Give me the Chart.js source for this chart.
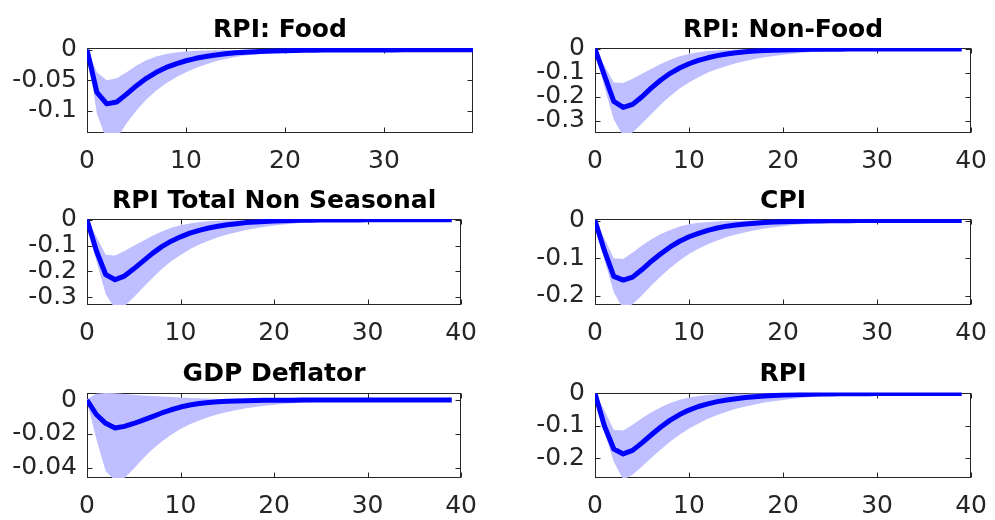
<!DOCTYPE html>
<html>
<head>
<meta charset="utf-8">
<title>Impulse responses: price indices</title>
<script src="https://cdn.jsdelivr.net/npm/chart.js@4.4.1/dist/chart.umd.min.js"></script>
<style>
  html, body { margin: 0; padding: 0; background: #fff; }
  #fig { position: relative; width: 995px; height: 520px; overflow: hidden; }
  #fig canvas { position: absolute; }
</style>
</head>
<body>
<div id="fig"></div>
<script>
/************** DATA **************/
const HORIZON = [0, 1, 2, 3, 4, 5, 6, 7, 8, 9, 10, 11, 12, 13, 14, 15, 16, 17, 18, 19,
  20, 21, 22, 23, 24, 25, 26, 27, 28, 29, 30, 31, 32, 33, 34, 35, 36, 37, 38, 39];

const TITLES = ["RPI: Food", "RPI: Non-Food", "RPI Total Non Seasonal", "CPI", "GDP Deflator", "RPI"];

// RPI: Food
const foodMean = [0, -0.070, -0.089, -0.086, -0.073, -0.059, -0.047, -0.037, -0.029, -0.023,
  -0.018, -0.014, -0.011, -0.0085, -0.0065, -0.005, -0.0039, -0.003, -0.0023, -0.0018,
  -0.0014, -0.0011, -0.0008, -0.0006, -0.0005, -0.0004, -0.0003, -0.0002, -0.0002, -0.0001,
  -0.0001, -0.0001, 0, 0, 0, 0, 0, 0, 0, 0];
const foodUpper = [0.002, -0.037, -0.050, -0.047, -0.037, -0.026, -0.017, -0.011, -0.007, -0.0045,
  -0.0028, -0.0017, -0.001, -0.0006, -0.0003, -0.0001, 0, 0, 0, 0,
  0, 0, 0, 0, 0, 0, 0, 0, 0, 0, 0, 0, 0, 0, 0, 0, 0, 0, 0, 0];
const foodLower = [-0.002, -0.105, -0.150, -0.146, -0.121, -0.100, -0.082, -0.067, -0.055, -0.045,
  -0.037, -0.030, -0.024, -0.019, -0.015, -0.012, -0.0095, -0.0075, -0.006, -0.0047,
  -0.0037, -0.0029, -0.0023, -0.0018, -0.0014, -0.0011, -0.0009, -0.0007, -0.0005, -0.0004,
  -0.0003, -0.0003, -0.0002, -0.0002, -0.0001, -0.0001, -0.0001, 0, 0, 0];

// RPI: Non-Food
const nonFoodMean = [0, -0.110, -0.220, -0.245, -0.232, -0.200, -0.163, -0.130, -0.102, -0.080,
  -0.062, -0.048, -0.037, -0.028, -0.021, -0.016, -0.012, -0.009, -0.007, -0.0053,
  -0.004, -0.003, -0.0023, -0.0017, -0.0013, -0.001, -0.0008, -0.0006, -0.0004, -0.0003,
  -0.0002, -0.0002, -0.0001, -0.0001, 0, 0, 0, 0, 0, 0];
const nonFoodUpper = [0.002, -0.070, -0.140, -0.143, -0.125, -0.104, -0.083, -0.063, -0.045, -0.031,
  -0.021, -0.014, -0.009, -0.006, -0.004, -0.0025, -0.0015, -0.001, -0.0005, -0.0002,
  0, 0, 0, 0, 0, 0, 0, 0, 0, 0, 0, 0, 0, 0, 0, 0, 0, 0, 0, 0];
const nonFoodLower = [-0.003, -0.160, -0.295, -0.365, -0.350, -0.312, -0.272, -0.233, -0.197, -0.166,
  -0.140, -0.118, -0.099, -0.084, -0.071, -0.060, -0.050, -0.042, -0.035, -0.029,
  -0.024, -0.020, -0.016, -0.013, -0.011, -0.009, -0.0074, -0.006, -0.005, -0.004,
  -0.0033, -0.0027, -0.0022, -0.0018, -0.0015, -0.0012, -0.001, -0.0008, -0.0006, -0.0005];

// RPI Total Non Seasonal
const totalMean = [0, -0.120, -0.212, -0.232, -0.218, -0.190, -0.160, -0.130, -0.104, -0.083,
  -0.066, -0.052, -0.041, -0.032, -0.025, -0.019, -0.015, -0.011, -0.0085, -0.0065,
  -0.005, -0.0038, -0.0029, -0.0022, -0.0017, -0.0013, -0.001, -0.0008, -0.0006, -0.0004,
  -0.0003, -0.0002, -0.0002, -0.0001, -0.0001, 0, 0, 0, 0, 0];
const totalUpper = [0.002, -0.065, -0.135, -0.138, -0.121, -0.101, -0.081, -0.062, -0.045, -0.031,
  -0.021, -0.014, -0.009, -0.006, -0.004, -0.0025, -0.0015, -0.001, -0.0005, -0.0002,
  0, 0, 0, 0, 0, 0, 0, 0, 0, 0, 0, 0, 0, 0, 0, 0, 0, 0, 0, 0];
const totalLower = [-0.003, -0.160, -0.287, -0.345, -0.335, -0.300, -0.262, -0.225, -0.191, -0.161,
  -0.136, -0.114, -0.096, -0.081, -0.068, -0.057, -0.048, -0.040, -0.033, -0.027,
  -0.022, -0.018, -0.015, -0.012, -0.010, -0.008, -0.0066, -0.0054, -0.0044, -0.0036,
  -0.0029, -0.0024, -0.0019, -0.0016, -0.0013, -0.001, -0.0008, -0.0007, -0.0005, -0.0004];

// CPI
const cpiMean = [0, -0.080, -0.148, -0.158, -0.150, -0.130, -0.108, -0.088, -0.070, -0.055,
  -0.043, -0.034, -0.026, -0.020, -0.015, -0.012, -0.009, -0.007, -0.0052, -0.004,
  -0.003, -0.0023, -0.0017, -0.0013, -0.001, -0.0007, -0.0005, -0.0004, -0.0003, -0.0002,
  -0.0002, -0.0001, -0.0001, 0, 0, 0, 0, 0, 0, 0];
const cpiUpper = [0.002, -0.048, -0.100, -0.102, -0.085, -0.066, -0.050, -0.036, -0.025, -0.016,
  -0.010, -0.006, -0.004, -0.0025, -0.0015, -0.001, -0.0005, -0.0002, 0, 0,
  0, 0, 0, 0, 0, 0, 0, 0, 0, 0, 0, 0, 0, 0, 0, 0, 0, 0, 0, 0];
const cpiLower = [-0.003, -0.105, -0.190, -0.235, -0.222, -0.198, -0.172, -0.148, -0.126, -0.106,
  -0.089, -0.075, -0.063, -0.053, -0.044, -0.037, -0.031, -0.026, -0.021, -0.018,
  -0.015, -0.012, -0.010, -0.008, -0.0066, -0.0054, -0.0044, -0.0036, -0.003, -0.0024,
  -0.002, -0.0016, -0.0013, -0.0011, -0.0009, -0.0007, -0.0006, -0.0005, -0.0004, -0.0003];

// GDP Deflator
const gdpMean = [0, -0.0085, -0.0137, -0.0165, -0.0155, -0.0138, -0.0118, -0.0097, -0.0076, -0.0057,
  -0.0041, -0.0029, -0.002, -0.0014, -0.001, -0.0007, -0.0005, -0.0003, -0.0002, -0.00015,
  -0.0001, -0.0001, -0.00005, 0, 0, 0, 0, 0, 0, 0, 0, 0, 0, 0, 0, 0, 0, 0, 0, 0];
const gdpUpper = [0.0005, 0.0038, 0.0042, 0.0040, 0.0036, 0.0032, 0.0028, 0.0025, 0.0022, 0.0019,
  0.0016, 0.0013, 0.0011, 0.0009, 0.0007, 0.0006, 0.0005, 0.0004, 0.0003, 0.0003,
  0.0002, 0.0002, 0.0001, 0.0001, 0.0001, 0, 0, 0, 0, 0, 0, 0, 0, 0, 0, 0, 0, 0, 0, 0];
const gdpLower = [-0.001, -0.023, -0.042, -0.0475, -0.046, -0.0405, -0.0345, -0.029, -0.0245, -0.0205,
  -0.017, -0.0143, -0.012, -0.010, -0.0084, -0.007, -0.0058, -0.0048, -0.004, -0.0033,
  -0.0027, -0.0022, -0.0018, -0.0015, -0.0012, -0.001, -0.0008, -0.0007, -0.0006, -0.0005,
  -0.0004, -0.0003, -0.0003, -0.0002, -0.0002, -0.0001, -0.0001, -0.0001, 0, 0];

// RPI
const rpiMean = [0, -0.100, -0.171, -0.186, -0.175, -0.152, -0.127, -0.103, -0.082, -0.065,
  -0.051, -0.040, -0.032, -0.025, -0.020, -0.016, -0.0125, -0.0098, -0.0077, -0.006,
  -0.0047, -0.0037, -0.0029, -0.0022, -0.0017, -0.0013, -0.001, -0.0008, -0.0006, -0.0005,
  -0.0004, -0.0003, -0.0002, -0.0002, -0.0001, -0.0001, 0, 0, 0, 0];
const rpiUpper = [0.002, -0.052, -0.112, -0.114, -0.096, -0.076, -0.058, -0.042, -0.029, -0.019,
  -0.012, -0.008, -0.005, -0.003, -0.002, -0.001, -0.0005, 0, 0, 0,
  0, 0, 0, 0, 0, 0, 0, 0, 0, 0, 0, 0, 0, 0, 0, 0, 0, 0, 0, 0];
const rpiLower = [-0.003, -0.120, -0.210, -0.265, -0.250, -0.225, -0.198, -0.172, -0.148, -0.127,
  -0.108, -0.092, -0.078, -0.066, -0.056, -0.047, -0.040, -0.034, -0.028, -0.024,
  -0.020, -0.016, -0.013, -0.011, -0.009, -0.0075, -0.0062, -0.0051, -0.0042, -0.0034,
  -0.0028, -0.0023, -0.0019, -0.0015, -0.0012, -0.001, -0.0008, -0.0006, -0.0005, -0.0004];

// axis ticks and labels
const X_TICKS_39 = [0, 10, 20, 30];
const X_LABELS_39 = ["0", "10", "20", "30"];
const X_TICKS_40 = [0, 10, 20, 30, 40];
const X_LABELS_40 = ["0", "10", "20", "30", "40"];

const Y_TICKS_FOOD = [0, -0.05, -0.1];
const Y_LABELS_FOOD = ["0", "-0.05", "-0.1"];
const Y_TICKS_TENTHS3 = [0, -0.1, -0.2, -0.3];
const Y_LABELS_TENTHS3 = ["0", "-0.1", "-0.2", "-0.3"];
const Y_TICKS_TENTHS2 = [0, -0.1, -0.2];
const Y_LABELS_TENTHS2 = ["0", "-0.1", "-0.2"];
const Y_TICKS_GDP = [0, -0.02, -0.04];
const Y_LABELS_GDP = ["0", "-0.02", "-0.04"];

/************** PANELS **************/
const panels = [
  { title: TITLES[0], mean: foodMean, upper: foodUpper, lower: foodLower,
    yMin: -0.137, yMax: 0.003, yTicks: Y_TICKS_FOOD, yLabels: Y_LABELS_FOOD,
    xMax: 39, xTicks: X_TICKS_39, xLabels: X_LABELS_39 },
  { title: TITLES[1], mean: nonFoodMean, upper: nonFoodUpper, lower: nonFoodLower,
    yMin: -0.352, yMax: 0.004, yTicks: Y_TICKS_TENTHS3, yLabels: Y_LABELS_TENTHS3,
    xMax: 40, xTicks: X_TICKS_40, xLabels: X_LABELS_40 },
  { title: TITLES[2], mean: totalMean, upper: totalUpper, lower: totalLower,
    yMin: -0.33, yMax: 0.003, yTicks: Y_TICKS_TENTHS3, yLabels: Y_LABELS_TENTHS3,
    xMax: 40, xTicks: X_TICKS_40, xLabels: X_LABELS_40 },
  { title: TITLES[3], mean: cpiMean, upper: cpiUpper, lower: cpiLower,
    yMin: -0.224, yMax: 0.004, yTicks: Y_TICKS_TENTHS2, yLabels: Y_LABELS_TENTHS2,
    xMax: 40, xTicks: X_TICKS_40, xLabels: X_LABELS_40 },
  { title: TITLES[4], mean: gdpMean, upper: gdpUpper, lower: gdpLower,
    yMin: -0.046, yMax: 0.0045, yTicks: Y_TICKS_GDP, yLabels: Y_LABELS_GDP,
    xMax: 40, xTicks: X_TICKS_40, xLabels: X_LABELS_40 },
  { title: TITLES[5], mean: rpiMean, upper: rpiUpper, lower: rpiLower,
    yMin: -0.26, yMax: 0.003, yTicks: Y_TICKS_TENTHS2, yLabels: Y_LABELS_TENTHS2,
    xMax: 40, xTicks: X_TICKS_40, xLabels: X_LABELS_40 }
];

// grid geometry: canvas boxes and axis sizes per row / column
const ROWS = [
  { top: 0,   height: 175, padTop: 48,   xAxisH: 42 },
  { top: 175, height: 175, padTop: 44,   xAxisH: 45 },
  { top: 350, height: 170, padTop: 42.5, xAxisH: 42 }
];
const COLS = [
  { left: 0,   width: 490, yAxisW: 87, padRight: 17 },
  { left: 500, width: 500, yAxisW: 95, padRight: 20 }
];

/************** STYLE **************/
const AXIS_COLOR = "#262626";
const LINE_COLOR = "#0000ff";
const BAND_COLOR = "#bfbfff";
const FONT_FAMILY = "'DejaVu Sans', 'Liberation Sans', sans-serif";
const TICK_FONT = { family: FONT_FAMILY, size: 25 };
const TICK_LEN = 5;

Chart.defaults.font.family = FONT_FAMILY;

// box around the axes, inward ticks on all four sides, bold title on top
const matlabAxes = {
  id: "matlabAxes",
  beforeDatasetsDraw(chart, args, opts) {
    const { ctx, chartArea: a, scales: { x, y } } = chart;
    const L = Math.round(a.left) + 0.5;
    const R = Math.round(a.right) - 0.5;
    const T = Math.round(a.top) + 0.5;
    const B = Math.round(a.bottom) - 0.5;

    ctx.save();
    ctx.strokeStyle = AXIS_COLOR;
    ctx.lineWidth = 1;
    ctx.strokeRect(L, T, R - L, B - T);

    ctx.beginPath();
    opts.xTicks.forEach(v => {
      const px = Math.round(x.getPixelForValue(v)) + 0.5;
      ctx.moveTo(px, B); ctx.lineTo(px, B - TICK_LEN);
      ctx.moveTo(px, T); ctx.lineTo(px, T + TICK_LEN);
    });
    opts.yTicks.forEach(v => {
      const py = Math.round(y.getPixelForValue(v)) + 0.5;
      ctx.moveTo(L, py); ctx.lineTo(L + TICK_LEN, py);
      ctx.moveTo(R, py); ctx.lineTo(R - TICK_LEN, py);
    });
    ctx.stroke();

    ctx.fillStyle = "#000";
    ctx.font = "bold 25px " + FONT_FAMILY;
    ctx.textAlign = "center";
    ctx.textBaseline = "alphabetic";
    ctx.fillText(opts.title, (a.left + a.right) / 2, a.top - 11.5);
    ctx.restore();
  }
};

function toPoints(values) {
  return HORIZON.map((h, i) => ({ x: h, y: values[i] }));
}

/************** CHARTS **************/
const fig = document.getElementById("fig");

panels.forEach((p, i) => {
  const row = ROWS[Math.floor(i / 2)];
  const col = COLS[i % 2];

  const canvas = document.createElement("canvas");
  canvas.width = col.width;
  canvas.height = row.height;
  canvas.style.left = col.left + "px";
  canvas.style.top = row.top + "px";
  fig.appendChild(canvas);

  new Chart(canvas.getContext("2d"), {
    type: "line",
    data: {
      datasets: [
        {
          label: "response",
          data: toPoints(p.mean),
          borderColor: LINE_COLOR,
          borderWidth: 5,
          borderJoinStyle: "round",
          pointRadius: 0,
          tension: 0,
          fill: false
        },
        {
          label: "upper",
          data: toPoints(p.upper),
          borderColor: "rgba(0,0,0,0)",
          borderWidth: 0,
          backgroundColor: BAND_COLOR,
          pointRadius: 0,
          tension: 0,
          fill: "+1"
        },
        {
          label: "lower",
          data: toPoints(p.lower),
          borderColor: "rgba(0,0,0,0)",
          borderWidth: 0,
          pointRadius: 0,
          tension: 0,
          fill: false
        }
      ]
    },
    options: {
      responsive: false,
      animation: false,
      events: [],
      layout: { padding: { top: row.padTop, right: col.padRight, bottom: 0, left: 0 } },
      plugins: {
        legend: { display: false },
        title: { display: false },
        tooltip: { enabled: false },
        matlabAxes: { title: p.title, xTicks: p.xTicks, yTicks: p.yTicks }
      },
      scales: {
        x: {
          type: "linear",
          min: 0,
          max: p.xMax,
          afterBuildTicks: s => { s.ticks = p.xTicks.map(v => ({ value: v })); },
          afterFit: s => { s.height = row.xAxisH; },
          grid: { display: false, drawTicks: false },
          border: { display: false },
          ticks: {
            font: TICK_FONT,
            color: AXIS_COLOR,
            padding: 13,
            maxRotation: 0,
            autoSkip: false,
            callback: (v, idx) => p.xLabels[idx]
          }
        },
        y: {
          type: "linear",
          min: p.yMin,
          max: p.yMax,
          afterBuildTicks: s => { s.ticks = p.yTicks.map(v => ({ value: v })); },
          afterFit: s => { s.width = col.yAxisW; },
          grid: { display: false, drawTicks: false },
          border: { display: false },
          ticks: {
            font: TICK_FONT,
            color: AXIS_COLOR,
            padding: 10,
            autoSkip: false,
            callback: (v, idx) => p.yLabels[idx]
          }
        }
      }
    },
    plugins: [matlabAxes]
  });
});
</script>
</body>
</html>
